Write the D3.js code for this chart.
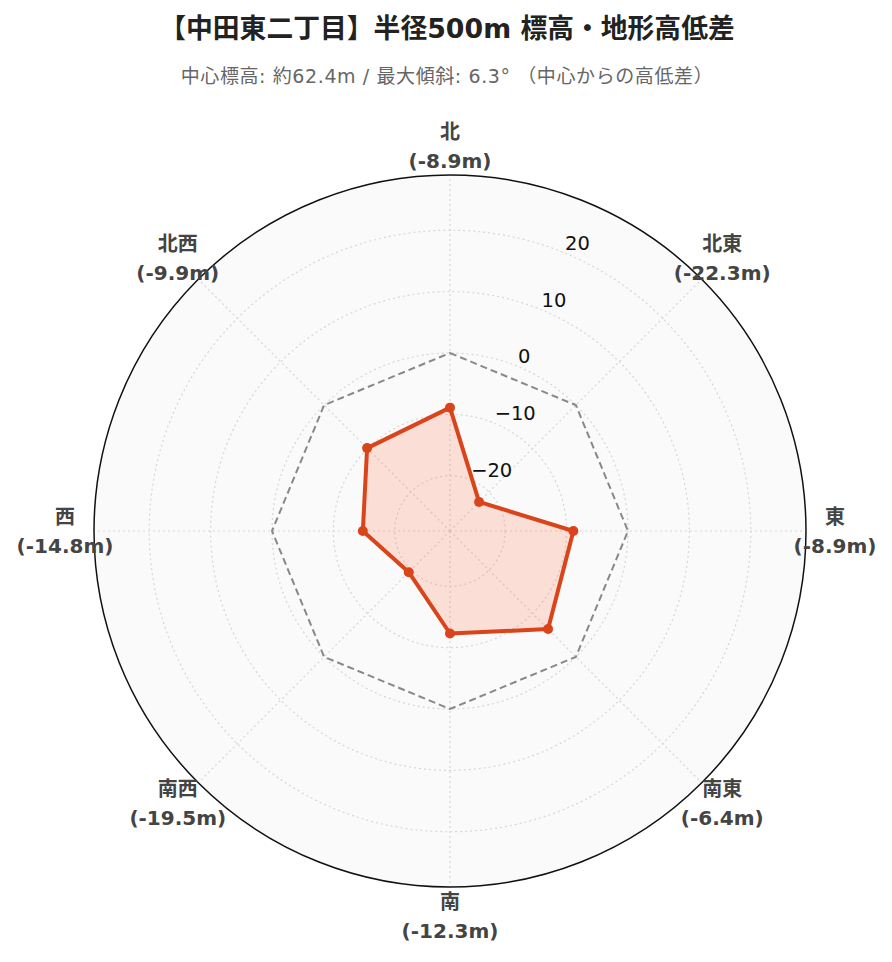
<!DOCTYPE html>
<html><head><meta charset="utf-8">
<script src="https://cdn.jsdelivr.net/npm/d3@7"></script>
<style>
body{margin:0;background:#fff;}
svg{display:block;}
</style></head>
<body>
<svg id="chart" width="892" height="962"></svg>
<script>
const directions = ["北","北東","東","南東","南","南西","西","北西"];
const diffs = [-8.9, -22.3, -8.9, -6.4, -12.3, -19.5, -14.8, -9.9];
const baseline = [0,0,0,0,0,0,0,0];
const radialTicks = [-20, -10, 0, 10, 20];
const radialRange = [-29, 29];
const titleText = "【中田東二丁目】半径500m 標高・地形高低差";
const subtitleText = "中心標高: 約62.4m / 最大傾斜: 6.3° （中心からの高低差）";

const W = 892, H = 962, cx = 450, cy = 531, R = 356;
const svg = d3.select("#chart");
const latin = "'DejaVu Sans','Noto Sans CJK JP',sans-serif";

const r = d3.scaleLinear().domain(radialRange).range([0, R]);
const ang = d3.scalePoint().domain(directions).range([0, 2*Math.PI*7/8]);

svg.append("text").attr("x", 447).attr("y", 38).attr("text-anchor","middle")
  .attr("font-family", latin).attr("font-weight","bold")
  .attr("font-size", 26.8).attr("fill","#222").text(titleText);
svg.append("text").attr("x", 447).attr("y", 83).attr("text-anchor","middle")
  .attr("font-family", latin).attr("letter-spacing", 0.6)
  .attr("font-size", 19).attr("fill","#666").text(subtitleText);

const g = svg.append("g").attr("transform", `translate(${cx},${cy})`);

g.append("circle").attr("r", R).attr("fill", "#fafafa");

// grid circles
g.selectAll(".gc").data(radialTicks).join("circle")
  .attr("r", d => r(d)).attr("fill","none")
  .attr("stroke","#d6d6d6").attr("stroke-width",1.2).attr("stroke-dasharray","2,3");
// radial lines
g.selectAll(".gl").data(directions).join("line")
  .attr("x1",0).attr("y1",0)
  .attr("x2", d => R*Math.sin(ang(d))).attr("y2", d => -R*Math.cos(ang(d)))
  .attr("stroke","#d6d6d6").attr("stroke-width",1.2).attr("stroke-dasharray","2,3");

const line = d3.lineRadial().angle((d,i) => ang(directions[i])).radius(d => r(d)).curve(d3.curveLinearClosed);

// baseline dashed
g.append("path").attr("d", line(baseline)).attr("fill","none")
  .attr("stroke","#888").attr("stroke-width",2).attr("stroke-dasharray","7,4");

// series
g.append("path").attr("d", line(diffs)).attr("fill","rgba(255,112,67,0.2)")
  .attr("stroke","#d9441a").attr("stroke-width",4).attr("stroke-linejoin","round");
g.selectAll(".pt").data(diffs).join("circle")
  .attr("cx",(d,i)=> r(d)*Math.sin(ang(directions[i])))
  .attr("cy",(d,i)=> -r(d)*Math.cos(ang(directions[i])))
  .attr("r",5).attr("fill","#d9441a");

// outer circle
g.append("circle").attr("r", R).attr("fill","none").attr("stroke","#111").attr("stroke-width",1.5);

// radial tick labels along 22.5deg
const ta = Math.PI/8;
g.selectAll(".tl").data(radialTicks).join("text")
  .attr("x", d => r(d)*Math.sin(ta)).attr("y", d => -r(d)*Math.cos(ta) - 10)
  .attr("dy","0.35em")
  .attr("font-family", latin).attr("font-size", 19.5).attr("fill","#111")
  .text(d => d < 0 ? "\u2212" + Math.abs(d) : String(d));

// angular labels
const LR = 385;
const lab = g.selectAll(".al").data(directions).join("text")
  .attr("text-anchor","middle")
  .attr("font-family", latin).attr("font-weight","bold")
  .attr("font-size", 20).attr("fill","#444");
lab.append("tspan")
  .attr("x", d => LR*Math.sin(ang(d)))
  .attr("y", d => -LR*Math.cos(ang(d)) - 14.5)
  .attr("dy","0.35em").text(d => d);
lab.append("tspan")
  .attr("x", d => LR*Math.sin(ang(d)))
  .attr("y", d => -LR*Math.cos(ang(d)) + 14.5)
  .attr("dy","0.35em").text((d,i) => `(${diffs[i]}m)`);
</script>
</body></html>
